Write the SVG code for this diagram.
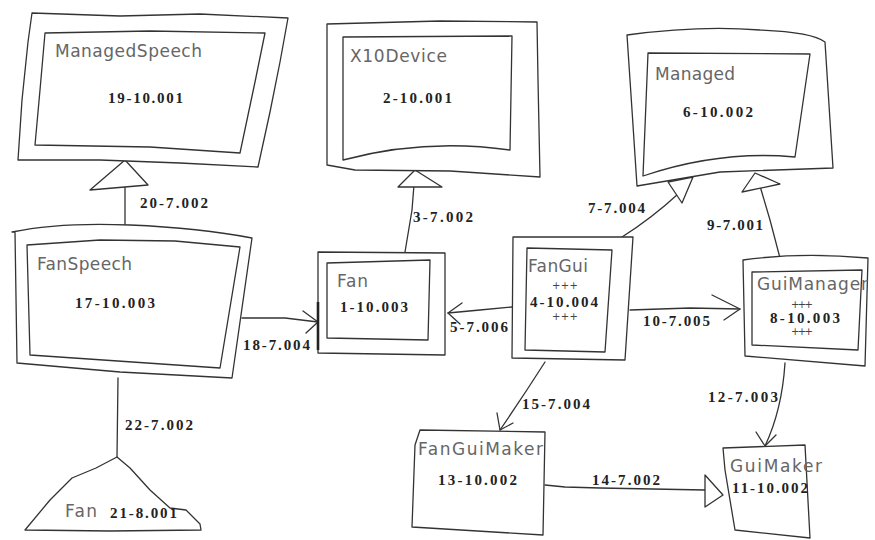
<svg xmlns="http://www.w3.org/2000/svg" width="875" height="540" viewBox="0 0 875 540">
<style>
.ln{fill:none;stroke:#333;stroke-width:1.3;stroke-linejoin:round;stroke-linecap:round}
.bx{fill:#fff;stroke:#333;stroke-width:1.3;stroke-linejoin:round}
.tri{fill:#fff;stroke:#333;stroke-width:1.3;stroke-linejoin:round}
.thk{fill:none;stroke:#222;stroke-width:2.6}
.nm{font-family:"DejaVu Sans",sans-serif;font-size:17px;fill:#666}
.num{font-family:"Liberation Serif",serif;font-weight:bold;font-size:15px;fill:#222}
.pl{font-family:"DejaVu Sans",sans-serif;font-size:10px;fill:#444}
</style>
<rect width="875" height="540" fill="#fff"/>
<g id="connectors">
  <path class="ln" d="M125,162 L125,228"/>
  <path class="tri" d="M125,160 L90,190 L148,185 Z"/>
  <path class="ln" d="M415,172 L412,210 L405,252"/>
  <path class="tri" d="M415,170 L398,187 L442,187 Z"/>
  <path class="ln" d="M622,237 Q652,218 678,194"/>
  <path class="tri" d="M668,182 L693,177 L682,203 Z"/>
  <path class="ln" d="M780,258 L770,220 L760,186"/>
  <path class="tri" d="M755,173 L742,192 L780,184 Z"/>
  <path class="ln" d="M242,318 L285,318 L318,322"/>
  <path class="ln" d="M303,311 L318,322 L306,333"/>
  <path class="ln" d="M512,307 L480,310 L448,313"/>
  <path class="ln" d="M462,303 L448,313 L460,324"/>
  <path class="ln" d="M630,310 L690,308 L740,309"/>
  <path class="ln" d="M712,295 L740,309 L724,320"/>
  <path class="ln" d="M545,362 Q522,398 500,430"/>
  <path class="ln" d="M497,413 L500,430 L513,423"/>
  <path class="ln" d="M785,363 Q782,410 765,446"/>
  <path class="ln" d="M756,432 L765,446 L776,435"/>
  <path class="ln" d="M545,485 L565,487 L600,488 L705,490"/>
  <path class="tri" d="M705,475 L705,507 L723,495 Z"/>
  <path class="ln" d="M118,378 L117,457"/>
  <text class="num" x="140" y="208" textLength="68">20-7.002</text>
  <text class="num" x="413" y="222" textLength="60">3-7.002</text>
  <text class="num" x="588" y="213" textLength="57">7-7.004</text>
  <text class="num" x="707" y="230" textLength="56">9-7.001</text>
  <text class="num" x="243" y="350" textLength="67">18-7.004</text>
  <text class="num" x="450" y="332" textLength="58">5-7.006</text>
  <text class="num" x="643" y="326" textLength="67">10-7.005</text>
  <text class="num" x="522" y="409" textLength="68">15-7.004</text>
  <text class="num" x="708" y="402" textLength="70">12-7.003</text>
  <text class="num" x="592" y="485" textLength="68">14-7.002</text>
  <text class="num" x="125" y="430" textLength="68">22-7.002</text>
</g>
<g id="ManagedSpeech">
  <path class="bx" d="M32,13 L120,16 L200,14 L288,18 L280,62 L270,112 L258,167 L180,163 L100,160 L18,160 L22,100 L28,42 Z"/>
  <path class="ln" d="M45,33 L150,31 L265,33 L255,82 L240,153 L150,147 L35,145 L40,90 Z"/>
  <text class="nm" x="55" y="57" textLength="147">ManagedSpeech</text>
  <text class="num" x="108" y="103" textLength="75">19-10.001</text>
</g>
<g id="X10Device">
  <path class="bx" d="M327,24 L440,21 L537,22 L538,80 L540,177 L450,171 L355,170 L327,165 Z"/>
  <path class="ln" d="M343,37 L512,36 L510,150 Q425,138 343,160 Z"/>
  <text class="nm" x="350" y="62" textLength="97">X10Device</text>
  <text class="num" x="383" y="103" textLength="69">2-10.001</text>
</g>
<g id="Managed">
  <path class="bx" d="M627,35 Q700,25 760,30 Q812,32 825,42 L833,168 L720,172 L637,186 L632,110 Z"/>
  <path class="ln" d="M648,53 L810,54 L795,157 Q720,150 643,176 Z"/>
  <text class="nm" x="655" y="80" textLength="80">Managed</text>
  <text class="num" x="683" y="117" textLength="70">6-10.002</text>
</g>
<g id="FanSpeech">
  <path class="bx" d="M12,232 Q60,222 130,225 Q200,228 252,238 L232,378 L120,372 L17,363 L15,232 Z"/>
  <path class="ln" d="M27,245 L100,240 L175,241 L240,247 L220,368 L30,355 Z"/>
  <text class="nm" x="37" y="270" textLength="95">FanSpeech</text>
  <text class="num" x="75" y="308" textLength="80">17-10.003</text>
</g>
<g id="Fan1">
  <path class="bx" d="M318,252 L445,253 L445,355 L318,353 Z"/>
  <path class="ln" d="M327,263 L430,260 L428,340 L327,338 Z"/>
  <path class="thk" d="M318,302 L318,350"/>
  <text class="nm" x="337" y="287" textLength="31">Fan</text>
  <text class="num" x="340" y="312" textLength="68">1-10.003</text>
</g>
<g id="FanGui">
  <path class="bx" d="M513,237 L633,237 L625,360 L512,358 Z"/>
  <path class="ln" d="M527,248 L612,250 L605,352 L525,350 Z"/>
  <text class="nm" x="528" y="272" textLength="60">FanGui</text>
  <text class="pl" x="552" y="289" textLength="26">+++</text>
  <text class="num" x="530" y="307" textLength="68">4-10.004</text>
  <text class="pl" x="552" y="320" textLength="26">+++</text>
</g>
<g id="GuiManager">
  <path class="bx" d="M743,260 Q800,252 868,258 L865,366 L745,356 Z"/>
  <path class="ln" d="M752,272 L862,270 L858,350 L752,345 Z"/>
  <text class="nm" x="757" y="290" textLength="111">GuiManager</text>
  <text class="pl" x="791" y="308" textLength="22">+++</text>
  <text class="num" x="770" y="323" textLength="70">8-10.003</text>
  <text class="pl" x="791" y="335" textLength="22">+++</text>
</g>
<g id="FanGuiMaker">
  <path class="bx" d="M420,430 L545,432 L543,535 L412,527 L415,445 Z"/>
  <text class="nm" x="418" y="455" textLength="125">FanGuiMaker</text>
  <text class="num" x="438" y="485" textLength="79">13-10.002</text>
</g>
<g id="GuiMaker">
  <path class="bx" d="M723,448 L805,445 L810,538 L735,530 L725,470 Z"/>
  <text class="nm" x="730" y="472" textLength="92">GuiMaker</text>
  <text class="num" x="732" y="493" textLength="76">11-10.002</text>
</g>
<g id="Fan21">
  <path class="bx" d="M117,457 L130,468 L150,490 L170,508 L186,510 L200,524 L201,530 L110,531 L25,530 L50,500 L72,478 L96,468 Z"/>
  <text class="nm" x="65" y="517" textLength="32">Fan</text>
  <text class="num" x="110" y="518" textLength="67">21-8.001</text>
</g>
</svg>
